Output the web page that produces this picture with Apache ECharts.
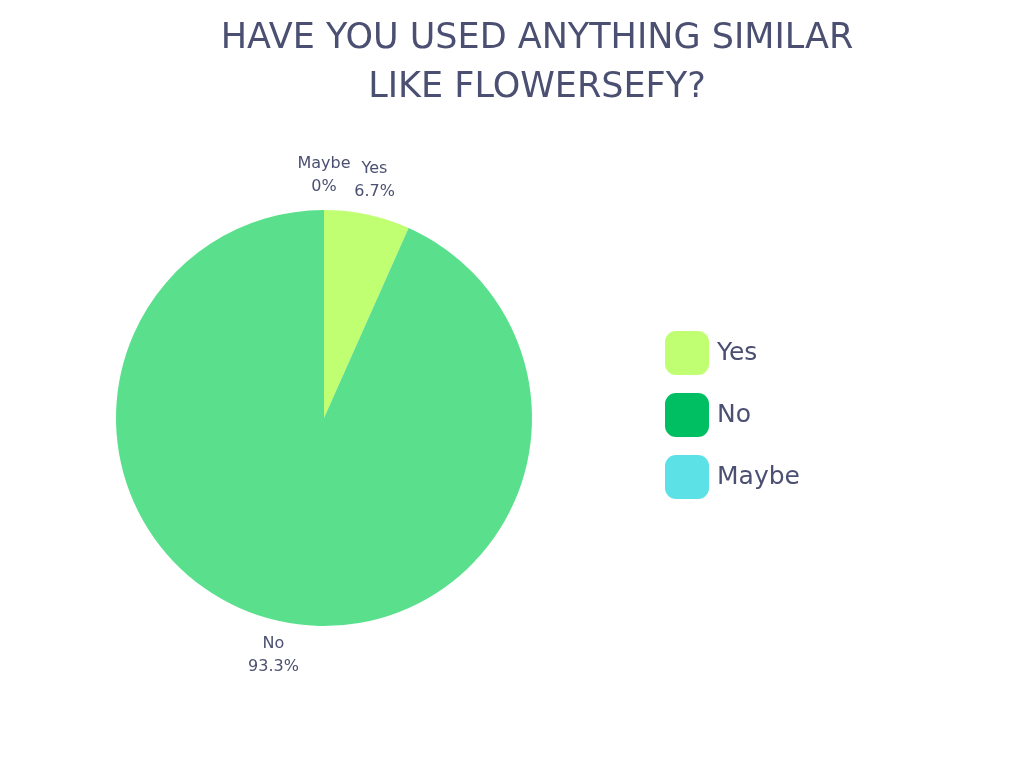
<!DOCTYPE html>
<html><head><meta charset="utf-8">
<script src="https://cdn.jsdelivr.net/npm/echarts@6/dist/echarts.min.js"></script>
<style>html,body{margin:0;padding:0;background:#fff}#c{width:1024px;height:768px}</style>
</head><body><div id="c"></div>
<script>
const categories = ['Yes', 'No', 'Maybe'];
const values = [1, 14, 0];
const pieColors = ['#C1FF72', '#5AE08C', '#5CE1E6'];
const legendColors = ['#C1FF72', '#00BF63', '#5CE1E6'];
const titleText = 'HAVE YOU USED ANYTHING SIMILAR\nLIKE FLOWERSEFY?';

const FONT = 'DejaVu Sans';
const TXT = '#4B5072';
const chart = echarts.init(document.getElementById('c'), null, {renderer: 'canvas'});
const data = categories.map((n, i) => ({name: n, value: values[i], itemStyle: {color: pieColors[i]}}));
chart.setOption({
  animation: false,
  title: {
    text: titleText, left: 537, top: 14, textAlign: 'center', padding: 0,
    textStyle: {fontFamily: FONT, fontWeight: 'normal', fontSize: 35, lineHeight: 49, color: TXT}
  },
  legend: {
    orient: 'vertical', left: 665, top: 331, itemWidth: 44, itemHeight: 44, itemGap: 18,
    icon: 'roundRect', padding: 0,
    textStyle: {fontFamily: FONT, fontSize: 25, color: TXT, padding: [0, 0, 0, 3]},
    data: categories.map((n, i) => ({name: n, itemStyle: {color: legendColors[i]}}))
  },
  series: [{
    type: 'pie', center: [324, 418], radius: [0, 208], startAngle: 90, clockwise: true,
    percentPrecision: 1, label: {show: false}, labelLine: {show: false},
    emphasis: {disabled: true}, data: data
  }, {
    type: 'pie', center: [324, 418], radius: [208, 272], startAngle: 90, clockwise: true,
    percentPrecision: 1, silent: true, stillShowZeroSum: true,
    itemStyle: {color: 'rgba(0,0,0,0)'},
    label: {show: true, position: 'inside', formatter: '{b}\n{d}%', fontFamily: FONT, fontSize: 16, lineHeight: 23, color: TXT},
    labelLine: {show: false}, emphasis: {disabled: true},
    data: categories.map((n, i) => ({name: n, value: values[i], itemStyle: {color: 'rgba(0,0,0,0)'}}))
  }]
});
</script></body></html>
